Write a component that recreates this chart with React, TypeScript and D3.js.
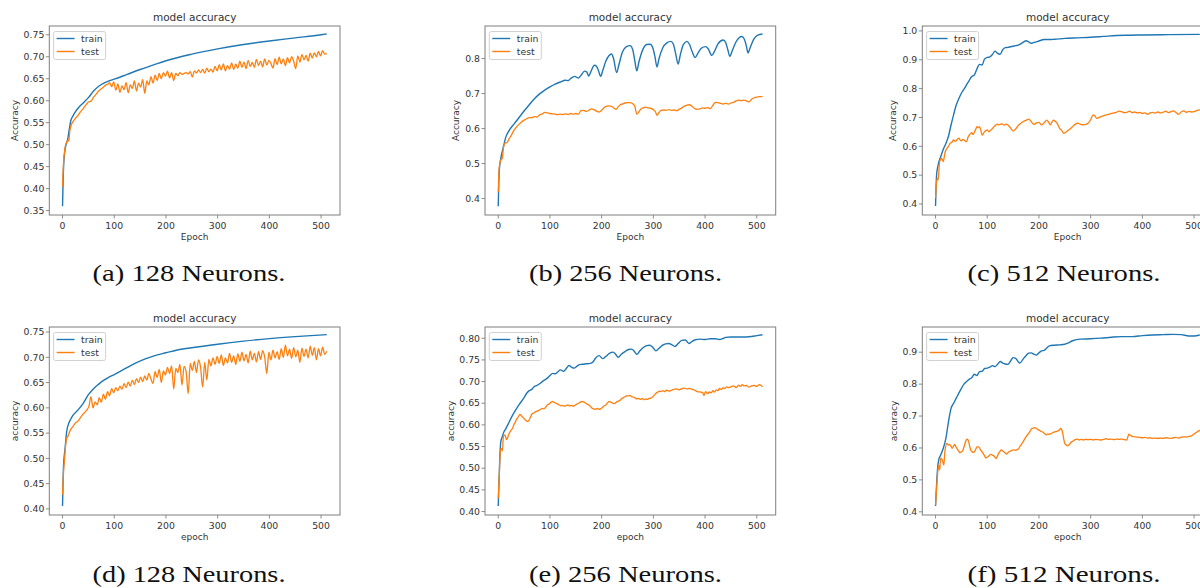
import React from "react";
import * as d3 from "d3";

type Pt = [number, number];

// ---------- shared ticks ----------
const epochTicks = [0, 100, 200, 300, 400, 500];
const yTicksA = [0.35, 0.4, 0.45, 0.5, 0.55, 0.6, 0.65, 0.7, 0.75];
const yTicksB = [0.4, 0.5, 0.6, 0.7, 0.8];
const yTicksC = [0.4, 0.5, 0.6, 0.7, 0.8, 0.9, 1.0];
const yTicksD = [0.4, 0.45, 0.5, 0.55, 0.6, 0.65, 0.7, 0.75];
const yTicksE = [0.4, 0.45, 0.5, 0.55, 0.6, 0.65, 0.7, 0.75, 0.8];
const yTicksF = [0.4, 0.5, 0.6, 0.7, 0.8, 0.9];

const seriesNames = ["train", "test"];
const captions = ["(a) 128 Neurons.", "(b) 256 Neurons.", "(c) 512 Neurons.", "(d) 128 Neurons.", "(e) 256 Neurons.", "(f) 512 Neurons."];

// ---------- (a) ----------
const aTrain: Pt[] = [[0,0.36],[2,0.45],[5,0.49],[8,0.505],[10,0.512],[13,0.535],[16,0.555],[20,0.565],[25,0.575],[30,0.583],[40,0.595],[50,0.607],[60,0.622],[70,0.633],[80,0.640],[90,0.645],[100,0.649],[125,0.660],[150,0.671],[175,0.681],[200,0.691],[250,0.706],[300,0.718],[350,0.728],[400,0.736],[450,0.743],[500,0.750],[511,0.752]];
const aTestEarly: Pt[] = [[0,0.405],[2,0.46],[4,0.485],[6,0.50],[8,0.505],[10,0.51],[12,0.508],[14,0.53],[17,0.545],[20,0.552],[25,0.56],[30,0.567],[35,0.575],[40,0.582],[45,0.59],[50,0.597],[55,0.599],[60,0.608],[65,0.615],[70,0.622],[75,0.627],[80,0.632],[84,0.636]];
const aTestLateStart = 87;
const aTestLateStep = 4;
const aTestLate = [
  0.637,0.641,0.632,0.643,0.624,0.638,0.619,0.634,0.625,0.641,
  0.618,0.636,0.628,0.645,0.622,0.640,0.631,0.648,0.617,0.645,
  0.636,0.655,0.640,0.658,0.646,0.662,0.650,0.664,0.656,0.667,
  0.652,0.664,0.646,0.662,0.657,0.664,0.660,0.662,0.664,0.661,
  0.666,0.654,0.668,0.663,0.670,0.664,0.671,0.663,0.674,0.666,
  0.672,0.665,0.678,0.668,0.682,0.670,0.684,0.668,0.680,0.672,
  0.686,0.671,0.683,0.674,0.690,0.676,0.688,0.673,0.692,0.678,
  0.687,0.676,0.694,0.680,0.690,0.677,0.695,0.681,0.692,0.685,
  0.674,0.696,0.682,0.699,0.684,0.695,0.680,0.698,0.686,0.700,
  0.690,0.673,0.702,0.688,0.705,0.693,0.703,0.690,0.708,0.697,
  0.709,0.700,0.712,0.702,0.714,0.706,0.707];

// ---------- (b) ----------
const bTrain: Pt[] = [[0,0.378],[2,0.48],[5,0.515],[10,0.548],[15,0.577],[20,0.592],[30,0.612],[40,0.631],[50,0.650],[60,0.668],[70,0.685],[80,0.699],[90,0.71],[100,0.719],[110,0.727],[120,0.733],[130,0.738],[135,0.737],[140,0.743],[148,0.749],[155,0.744],[160,0.752],[167,0.764],[171,0.762],[175,0.75],[179,0.762],[186,0.781],[190,0.778],[194,0.765],[198,0.749],[202,0.765],[208,0.792],[214,0.808],[219,0.813],[223,0.8],[229,0.76],[233,0.78],[240,0.818],[248,0.834],[255,0.837],[260,0.826],[264,0.795],[268,0.765],[272,0.79],[280,0.827],[287,0.84],[294,0.841],[299,0.83],[303,0.806],[307,0.776],[311,0.8],[318,0.83],[326,0.845],[334,0.849],[339,0.84],[343,0.815],[348,0.784],[352,0.81],[358,0.84],[365,0.849],[370,0.84],[375,0.82],[381,0.803],[386,0.815],[393,0.83],[401,0.834],[406,0.828],[413,0.809],[418,0.82],[425,0.842],[435,0.853],[440,0.845],[444,0.825],[448,0.806],[452,0.82],[460,0.848],[471,0.863],[476,0.855],[480,0.835],[483,0.816],[487,0.83],[494,0.855],[502,0.867],[511,0.870]];
const bTest: Pt[] = [[0,0.418],[2,0.49],[5,0.51],[8,0.515],[10,0.545],[13,0.558],[17,0.560],[20,0.568],[25,0.580],[30,0.594],[35,0.604],[40,0.612],[45,0.619],[50,0.624],[55,0.628],[60,0.631],[65,0.631],[70,0.634],[75,0.633],[80,0.639],[85,0.642],[90,0.646],[95,0.645],[100,0.643],[105,0.642],[110,0.641],[115,0.640],[120,0.641],[125,0.640],[130,0.642],[135,0.640],[140,0.643],[145,0.641],[150,0.643],[155,0.641],[160,0.651],[165,0.652],[170,0.649],[175,0.652],[180,0.656],[185,0.654],[190,0.650],[195,0.647],[200,0.652],[205,0.660],[210,0.664],[215,0.665],[220,0.663],[224,0.658],[228,0.655],[232,0.662],[236,0.668],[240,0.670],[245,0.673],[250,0.674],[255,0.674],[260,0.671],[264,0.664],[268,0.641],[272,0.648],[276,0.656],[280,0.659],[285,0.661],[290,0.659],[295,0.658],[300,0.654],[304,0.648],[307,0.638],[311,0.646],[315,0.652],[320,0.653],[325,0.652],[330,0.654],[335,0.652],[340,0.653],[345,0.651],[350,0.655],[355,0.659],[360,0.664],[365,0.667],[370,0.668],[375,0.663],[380,0.657],[385,0.655],[390,0.656],[395,0.659],[400,0.658],[405,0.660],[410,0.657],[415,0.666],[420,0.675],[425,0.674],[430,0.672],[435,0.670],[440,0.672],[445,0.670],[450,0.673],[455,0.675],[460,0.679],[465,0.681],[470,0.680],[475,0.681],[480,0.679],[485,0.676],[490,0.684],[495,0.688],[500,0.690],[505,0.691],[511,0.691]];

// ---------- (c) ----------
const cTrain: Pt[] = [[0,0.393],[2,0.50],[5,0.535],[10,0.564],[15,0.59],[20,0.61],[25,0.635],[30,0.674],[35,0.71],[40,0.743],[45,0.765],[50,0.784],[55,0.798],[60,0.813],[65,0.828],[70,0.842],[75,0.847],[80,0.868],[85,0.884],[90,0.882],[95,0.903],[100,0.908],[105,0.910],[110,0.918],[115,0.930],[120,0.922],[125,0.919],[130,0.935],[135,0.942],[140,0.943],[145,0.945],[150,0.947],[155,0.949],[160,0.951],[165,0.955],[170,0.961],[175,0.966],[180,0.962],[185,0.957],[190,0.960],[195,0.962],[200,0.965],[210,0.970],[220,0.970],[230,0.971],[250,0.974],[275,0.976],[300,0.978],[325,0.981],[350,0.984],[375,0.985],[400,0.986],[450,0.987],[511,0.988]];
const cTest: Pt[] = [[0,0.42],[3,0.49],[5,0.483],[8,0.547],[12,0.558],[15,0.547],[18,0.576],[22,0.593],[25,0.600],[28,0.61],[32,0.615],[35,0.622],[38,0.617],[40,0.619],[43,0.626],[45,0.628],[48,0.621],[50,0.619],[53,0.624],[55,0.622],[58,0.617],[60,0.616],[63,0.632],[65,0.639],[68,0.644],[70,0.647],[73,0.641],[75,0.649],[78,0.660],[80,0.668],[83,0.665],[85,0.668],[88,0.652],[90,0.639],[93,0.646],[95,0.651],[98,0.655],[100,0.657],[103,0.651],[105,0.653],[108,0.658],[110,0.662],[115,0.671],[120,0.677],[123,0.674],[126,0.678],[130,0.677],[133,0.673],[136,0.677],[140,0.674],[145,0.664],[150,0.653],[155,0.660],[160,0.672],[165,0.680],[170,0.686],[175,0.690],[180,0.694],[185,0.686],[190,0.676],[195,0.681],[200,0.683],[205,0.674],[210,0.682],[215,0.691],[219,0.682],[222,0.674],[225,0.684],[228,0.691],[232,0.686],[235,0.680],[240,0.662],[244,0.655],[248,0.645],[252,0.649],[255,0.653],[260,0.660],[265,0.668],[270,0.676],[275,0.680],[280,0.677],[285,0.674],[290,0.676],[295,0.680],[300,0.692],[305,0.709],[308,0.706],[312,0.697],[316,0.700],[320,0.703],[325,0.706],[330,0.709],[335,0.711],[340,0.714],[345,0.716],[350,0.718],[355,0.722],[360,0.720],[365,0.717],[370,0.718],[375,0.722],[380,0.717],[385,0.719],[390,0.716],[395,0.718],[400,0.714],[405,0.716],[410,0.711],[415,0.716],[420,0.718],[425,0.715],[430,0.719],[435,0.716],[440,0.718],[445,0.722],[450,0.717],[455,0.720],[460,0.723],[465,0.717],[470,0.711],[475,0.719],[480,0.723],[485,0.718],[490,0.721],[495,0.719],[500,0.720],[505,0.724],[511,0.726]];

// ---------- (d) ----------
const dTrain: Pt[] = [[0,0.406],[2,0.487],[5,0.52],[8,0.553],[10,0.563],[15,0.576],[20,0.585],[30,0.596],[40,0.609],[50,0.626],[60,0.638],[70,0.647],[80,0.655],[90,0.661],[100,0.666],[120,0.677],[140,0.688],[160,0.697],[180,0.704],[200,0.709],[220,0.714],[250,0.719],[300,0.726],[350,0.732],[400,0.737],[450,0.741],[511,0.745]];
const dTestEarly: Pt[] = [[0,0.428],[2,0.474],[4,0.5],[6,0.527],[8,0.54],[10,0.543],[15,0.556],[20,0.563],[25,0.570],[30,0.574],[35,0.581],[40,0.588],[44,0.592]];
const dTestLateStart = 47;
const dTestLateStep = 4;
const dTestLate = [
  0.596,0.603,0.622,0.600,0.612,0.606,0.620,0.611,0.627,0.617,
  0.632,0.624,0.638,0.630,0.640,0.634,0.643,0.637,0.648,0.640,
  0.651,0.643,0.655,0.646,0.658,0.650,0.661,0.652,0.663,0.655,
  0.668,0.657,0.648,0.672,0.660,0.676,0.650,0.673,0.665,0.680,
  0.668,0.683,0.637,0.678,0.670,0.686,0.645,0.682,0.672,0.628,
  0.688,0.674,0.692,0.670,0.695,0.680,0.641,0.690,0.655,0.696,
  0.683,0.699,0.686,0.702,0.688,0.705,0.684,0.699,0.689,0.708,
  0.690,0.703,0.686,0.707,0.692,0.710,0.693,0.706,0.689,0.712,
  0.695,0.708,0.691,0.711,0.696,0.713,0.700,0.668,0.710,0.695,
  0.714,0.699,0.711,0.696,0.717,0.700,0.724,0.703,0.716,0.698,
  0.719,0.701,0.714,0.690,0.718,0.702,0.716,0.699,0.722,0.704,
  0.719,0.695,0.717,0.703,0.720,0.706,0.712];

// ---------- (e) ----------
const eTrain: Pt[] = [[0,0.413],[3,0.523],[5,0.562],[8,0.573],[10,0.581],[15,0.592],[20,0.604],[30,0.627],[40,0.646],[50,0.663],[55,0.673],[60,0.679],[65,0.682],[70,0.689],[75,0.691],[80,0.695],[85,0.700],[90,0.704],[95,0.708],[100,0.714],[105,0.719],[110,0.718],[115,0.722],[120,0.727],[127,0.724],[132,0.731],[137,0.737],[142,0.733],[147,0.731],[155,0.738],[162,0.740],[170,0.741],[178,0.742],[183,0.745],[188,0.754],[195,0.760],[202,0.753],[208,0.758],[215,0.765],[222,0.768],[227,0.763],[232,0.756],[238,0.763],[245,0.769],[252,0.774],[258,0.775],[263,0.770],[268,0.763],[274,0.771],[280,0.778],[287,0.783],[293,0.784],[299,0.779],[305,0.771],[311,0.777],[318,0.784],[324,0.787],[330,0.788],[336,0.785],[342,0.781],[348,0.788],[355,0.795],[362,0.796],[366,0.791],[369,0.788],[374,0.792],[380,0.796],[390,0.798],[400,0.797],[410,0.799],[420,0.799],[428,0.797],[434,0.799],[440,0.802],[450,0.803],[460,0.803],[470,0.803],[480,0.803],[490,0.804],[500,0.806],[511,0.808]];
const eTest: Pt[] = [[0,0.431],[2,0.485],[4,0.538],[6,0.546],[8,0.540],[10,0.573],[13,0.577],[16,0.566],[18,0.570],[20,0.577],[25,0.588],[28,0.593],[30,0.600],[33,0.606],[35,0.612],[38,0.617],[42,0.624],[45,0.621],[48,0.617],[52,0.612],[55,0.609],[58,0.608],[60,0.612],[63,0.620],[65,0.625],[68,0.627],[72,0.630],[75,0.632],[78,0.633],[82,0.636],[85,0.638],[88,0.637],[92,0.641],[95,0.646],[98,0.648],[102,0.652],[105,0.654],[108,0.652],[112,0.650],[115,0.648],[118,0.646],[122,0.644],[125,0.645],[128,0.643],[132,0.645],[135,0.646],[138,0.644],[142,0.645],[145,0.643],[148,0.645],[152,0.648],[155,0.650],[158,0.652],[162,0.654],[165,0.653],[168,0.651],[172,0.648],[175,0.646],[178,0.643],[182,0.638],[185,0.637],[188,0.636],[192,0.638],[195,0.636],[198,0.637],[202,0.641],[205,0.644],[208,0.646],[212,0.652],[215,0.654],[218,0.652],[222,0.650],[225,0.649],[228,0.652],[232,0.655],[235,0.656],[238,0.660],[242,0.663],[245,0.665],[248,0.667],[252,0.667],[255,0.668],[258,0.665],[262,0.664],[265,0.662],[268,0.660],[272,0.661],[275,0.659],[278,0.661],[282,0.658],[285,0.660],[288,0.659],[292,0.661],[295,0.662],[298,0.664],[302,0.669],[305,0.673],[308,0.675],[312,0.678],[315,0.677],[318,0.679],[322,0.677],[325,0.680],[330,0.678],[335,0.680],[340,0.682],[345,0.683],[350,0.681],[355,0.684],[360,0.685],[365,0.683],[370,0.684],[375,0.682],[380,0.680],[385,0.677],[390,0.676],[395,0.675],[398,0.668],[401,0.677],[405,0.672],[408,0.676],[412,0.674],[415,0.679],[418,0.676],[422,0.681],[425,0.679],[428,0.684],[432,0.682],[435,0.686],[438,0.684],[442,0.688],[445,0.686],[450,0.688],[455,0.690],[460,0.686],[465,0.692],[468,0.689],[472,0.693],[475,0.690],[480,0.691],[485,0.687],[490,0.690],[495,0.691],[500,0.689],[505,0.693],[511,0.688]];

// ---------- (f) ----------
const fTrain: Pt[] = [[0,0.418],[2,0.484],[4,0.536],[6,0.562],[10,0.578],[15,0.599],[20,0.63],[25,0.682],[30,0.724],[35,0.74],[40,0.756],[45,0.772],[50,0.787],[55,0.800],[60,0.808],[65,0.815],[70,0.820],[75,0.831],[80,0.827],[85,0.839],[90,0.840],[95,0.849],[100,0.850],[105,0.853],[110,0.858],[115,0.855],[120,0.862],[125,0.871],[130,0.866],[135,0.863],[140,0.862],[145,0.872],[150,0.883],[155,0.881],[160,0.870],[163,0.866],[170,0.880],[175,0.889],[180,0.897],[185,0.898],[190,0.894],[195,0.891],[200,0.898],[205,0.904],[210,0.906],[215,0.913],[220,0.920],[230,0.922],[240,0.923],[250,0.925],[255,0.928],[265,0.936],[280,0.941],[300,0.942],[320,0.944],[340,0.947],[360,0.949],[380,0.949],[400,0.952],[420,0.954],[440,0.955],[460,0.956],[475,0.955],[490,0.951],[500,0.951],[511,0.954]];
const fTest: Pt[] = [[0,0.421],[2,0.473],[4,0.52],[6,0.546],[8,0.531],[10,0.569],[13,0.562],[16,0.546],[18,0.588],[22,0.614],[25,0.609],[27,0.611],[30,0.605],[32,0.599],[35,0.606],[37,0.611],[40,0.602],[42,0.597],[45,0.590],[47,0.585],[50,0.588],[52,0.590],[55,0.603],[57,0.614],[60,0.627],[62,0.628],[64,0.620],[66,0.606],[68,0.594],[71,0.588],[73,0.586],[76,0.590],[78,0.597],[80,0.603],[82,0.604],[85,0.600],[87,0.594],[90,0.588],[92,0.583],[95,0.575],[97,0.569],[100,0.571],[102,0.573],[105,0.578],[107,0.580],[110,0.577],[112,0.576],[115,0.571],[117,0.567],[120,0.576],[122,0.583],[125,0.590],[127,0.594],[130,0.591],[132,0.588],[135,0.584],[137,0.581],[140,0.585],[142,0.588],[146,0.591],[150,0.594],[155,0.593],[160,0.597],[165,0.609],[168,0.616],[172,0.627],[176,0.637],[180,0.646],[183,0.653],[186,0.661],[189,0.662],[192,0.664],[196,0.660],[200,0.656],[204,0.652],[208,0.649],[211,0.645],[214,0.641],[217,0.644],[220,0.643],[224,0.646],[228,0.649],[232,0.651],[236,0.653],[240,0.657],[242,0.661],[244,0.658],[246,0.646],[248,0.628],[250,0.614],[253,0.609],[256,0.607],[259,0.611],[262,0.618],[266,0.622],[270,0.626],[274,0.628],[278,0.625],[282,0.627],[286,0.625],[290,0.627],[295,0.626],[300,0.627],[305,0.625],[310,0.627],[315,0.626],[320,0.625],[325,0.627],[330,0.629],[335,0.627],[340,0.628],[345,0.626],[350,0.628],[355,0.627],[360,0.628],[365,0.626],[370,0.625],[372,0.635],[374,0.643],[377,0.640],[380,0.636],[385,0.635],[390,0.634],[395,0.633],[400,0.632],[405,0.633],[410,0.631],[415,0.632],[420,0.630],[425,0.631],[430,0.630],[435,0.631],[440,0.630],[445,0.632],[450,0.631],[455,0.630],[460,0.632],[465,0.633],[470,0.631],[475,0.634],[480,0.635],[485,0.634],[490,0.636],[495,0.638],[500,0.644],[505,0.649],[511,0.656]];

// ---------- helpers ----------
function joinUniform(early: Pt[], start: number, step: number, vals: number[]): Pt[] {
  return early.concat(vals.map((v, i) => [start + i * step, v] as Pt));
}

const BLUE = "#1f77b4";
const ORANGE = "#ff7f0e";
const TEXT = "#333333";
const SPINE = "#7f7f7f";

type PanelCfg = {
  left: number; top: number; width: number; height: number;
  yTop: number; yBottom: number; yTicks: number[]; yFmt: string;
  xLabel: string; yLabel: string; yLabelOffset: number;
  train: Pt[]; test: Pt[];
  caption: string; capX: number; capY: number;
};

const COL_X = [49.3, 485, 922.3];
const ROW_Y = [26, 327];
const ROW_H = [189, 188];
const AX_W = 290.7;

const panels: PanelCfg[] = [
  { left: COL_X[0], top: ROW_Y[0], width: AX_W, height: ROW_H[0], yTop: 0.770, yBottom: 0.340, yTicks: yTicksA, yFmt: ".2f", xLabel: "Epoch", yLabel: "Accuracy", yLabelOffset: 34, train: aTrain, test: joinUniform(aTestEarly, aTestLateStart, aTestLateStep, aTestLate), caption: captions[0], capX: 189, capY: 281 },
  { left: COL_X[1], top: ROW_Y[0], width: AX_W, height: ROW_H[0], yTop: 0.893, yBottom: 0.353, yTicks: yTicksB, yFmt: ".1f", xLabel: "Epoch", yLabel: "Accuracy", yLabelOffset: 29, train: bTrain, test: bTest, caption: captions[1], capX: 625.5, capY: 281 },
  { left: COL_X[2], top: ROW_Y[0], width: AX_W, height: ROW_H[0], yTop: 1.017, yBottom: 0.362, yTicks: yTicksC, yFmt: ".1f", xLabel: "Epoch", yLabel: "Accuracy", yLabelOffset: 29.5, train: cTrain, test: cTest, caption: captions[2], capX: 1064, capY: 281 },
  { left: COL_X[0], top: ROW_Y[1], width: AX_W, height: ROW_H[1], yTop: 0.760, yBottom: 0.388, yTicks: yTicksD, yFmt: ".2f", xLabel: "epoch", yLabel: "accuracy", yLabelOffset: 34, train: dTrain, test: joinUniform(dTestEarly, dTestLateStart, dTestLateStep, dTestLate), caption: captions[3], capX: 189, capY: 582 },
  { left: COL_X[1], top: ROW_Y[1], width: AX_W, height: ROW_H[1], yTop: 0.826, yBottom: 0.392, yTicks: yTicksE, yFmt: ".2f", xLabel: "epoch", yLabel: "accuracy", yLabelOffset: 34, train: eTrain, test: eTest, caption: captions[4], capX: 625.5, capY: 582 },
  { left: COL_X[2], top: ROW_Y[1], width: AX_W, height: ROW_H[1], yTop: 0.979, yBottom: 0.390, yTicks: yTicksF, yFmt: ".1f", xLabel: "epoch", yLabel: "accuracy", yLabelOffset: 28.5, train: fTrain, test: fTest, caption: captions[5], capX: 1064, capY: 582 },
];

function Panel({ p, idx }: { p: PanelCfg; idx: number }) {
  const x = d3.scaleLinear().domain([-25.6, 536.6]).range([p.left, p.left + p.width]);
  const y = d3.scaleLinear().domain([p.yBottom, p.yTop]).range([p.top + p.height, p.top]);
  const smooth = d3.line<Pt>().x((d) => x(d[0])).y((d) => y(d[1])).curve(d3.curveMonotoneX);
  const bottom = p.top + p.height;
  const fmt = d3.format(p.yFmt);
  const cx = p.left + p.width / 2;
  const lgX = p.left + 4.3;
  const lgY = p.top + 5.5;
  const clipId = `clip-${idx}`;
  return (
    <g>
      <defs>
        <clipPath id={clipId}>
          <rect x={p.left} y={p.top} width={p.width} height={p.height} />
        </clipPath>
      </defs>
      <text x={cx} y={p.top - 5} textAnchor="middle" fontSize={10.5} fill={TEXT}>model accuracy</text>
      <g clipPath={`url(#${clipId})`}>
        <path d={smooth(p.train) || ""} fill="none" stroke={BLUE} strokeWidth={1.4} />
        <path d={smooth(p.test) || ""} fill="none" stroke={ORANGE} strokeWidth={1.3} />
      </g>
      <rect x={p.left} y={p.top} width={p.width} height={p.height} fill="none" stroke={SPINE} strokeWidth={1} />
      {epochTicks.map((t) => (
        <g key={`x${t}`}>
          <line x1={x(t)} x2={x(t)} y1={bottom} y2={bottom + 3.5} stroke={SPINE} strokeWidth={0.9} />
          <text x={x(t)} y={bottom + 14} textAnchor="middle" fontSize={9.3} fill={TEXT}>{t}</text>
        </g>
      ))}
      {p.yTicks.map((t) => (
        <g key={`y${t}`}>
          <line x1={p.left - 3.5} x2={p.left} y1={y(t)} y2={y(t)} stroke={SPINE} strokeWidth={0.9} />
          <text x={p.left - 5} y={y(t)} dy="0.35em" textAnchor="end" fontSize={9.3} fill={TEXT}>{fmt(t)}</text>
        </g>
      ))}
      <text x={cx} y={bottom + 24.5} textAnchor="middle" fontSize={9} fill={TEXT}>{p.xLabel}</text>
      <text transform={`translate(${p.left - p.yLabelOffset},${p.top + p.height / 2}) rotate(-90)`} dy="0.35em" textAnchor="middle" fontSize={9} fill={TEXT}>{p.yLabel}</text>
      <rect x={lgX} y={lgY} width={52} height={28} rx={2} fill="#ffffff" fillOpacity={0.8} stroke="#cccccc" strokeWidth={0.9} />
      {seriesNames.map((name, i) => (
        <g key={name}>
          <line x1={lgX + 3} x2={lgX + 21} y1={lgY + 7 + i * 13} y2={lgY + 7 + i * 13} stroke={i === 0 ? BLUE : ORANGE} strokeWidth={1.4} />
          <text x={lgX + 27.5} y={lgY + 7 + i * 13} dy="0.35em" fontSize={9.3} fill={TEXT}>{name}</text>
        </g>
      ))}
      <text x={p.capX} y={p.capY} textAnchor="middle" fontFamily="'Liberation Serif', serif" fontSize={23} fill="#111" textLength={193} lengthAdjust="spacingAndGlyphs">{p.caption}</text>
    </g>
  );
}

export default function App() {
  return (
    <svg width={1200} height={588} style={{ position: "absolute", left: 0, top: 0, background: "#fff" }} fontFamily="'DejaVu Sans', sans-serif">
      <rect x={0} y={0} width={1200} height={588} fill="#fff" />
      {panels.map((p, i) => (
        <Panel key={i} p={p} idx={i} />
      ))}
    </svg>
  );
}
